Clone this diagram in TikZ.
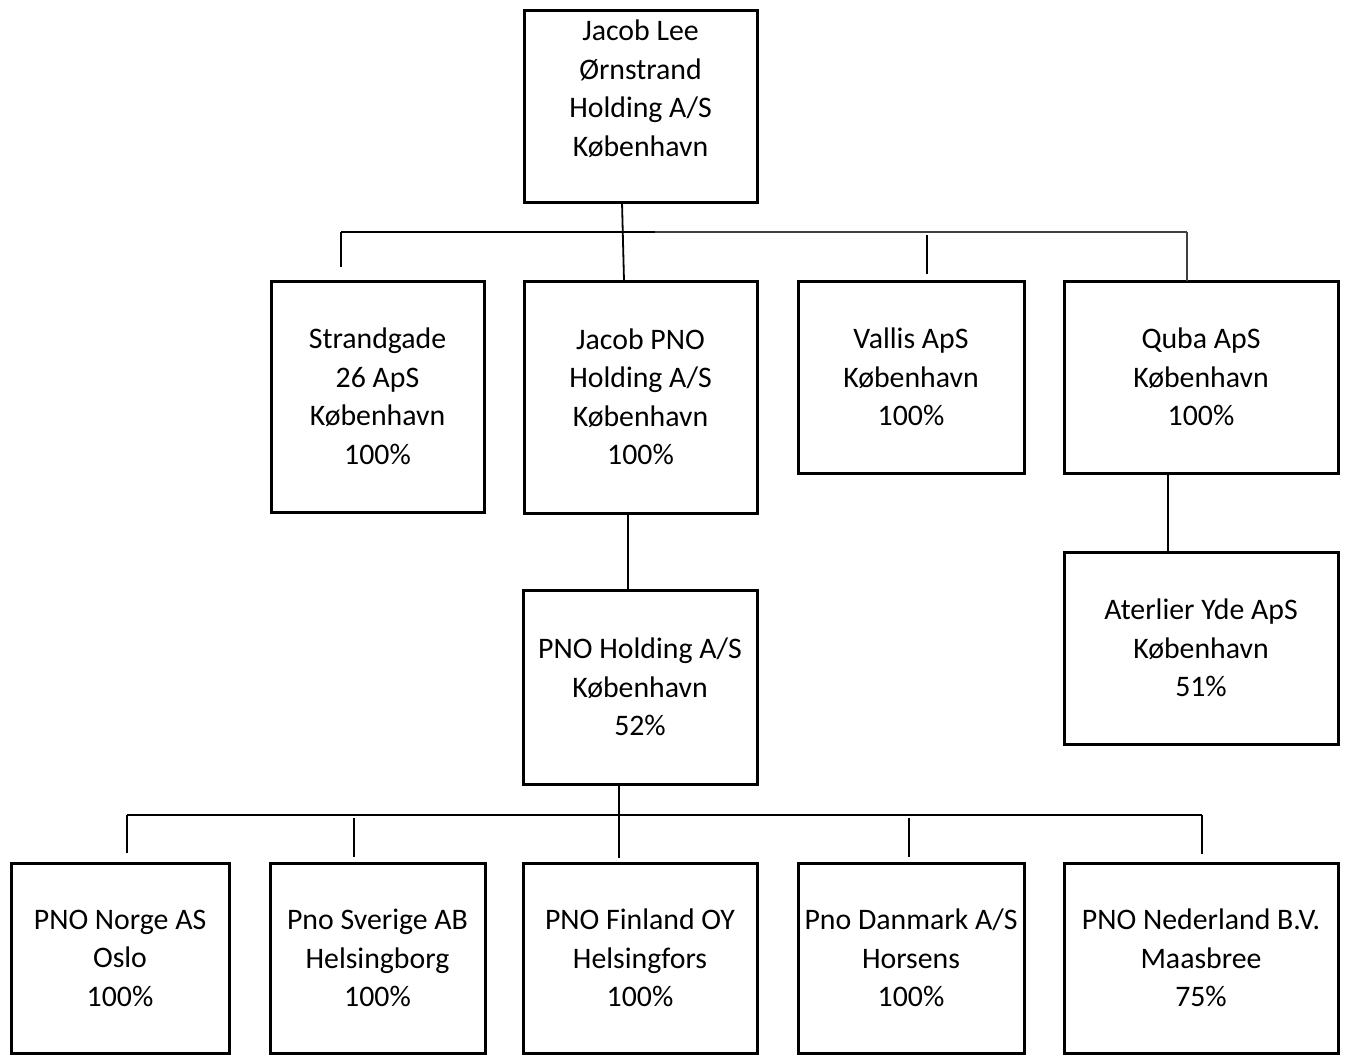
\documentclass[tikz,border=0pt]{standalone}
\usepackage{fontspec}
\setmainfont{Carlito}
\usetikzlibrary{calc}
\begin{document}
\begin{tikzpicture}[x=1pt,y=-1pt,
  box/.style={draw, line width=3pt, inner sep=0pt, outer sep=0pt, align=center,
              font=\fontsize{29.8}{38.5}\selectfont},
  conn/.style={line width=2.8pt},
  thinconn/.style={line width=1.8pt}]
\useasboundingbox (0,0) rectangle (1346,1055);

% boxes
\node[box, minimum width=233pt, minimum height=192pt] (top) at (640.5,106)
  {Jacob Lee\\Ørnstrand\\Holding A/S\\København\\[-14pt]\strut};
\node[box, minimum width=213pt, minimum height=231pt] (str) at (377.5,396.5)
  {Strandgade\\26 ApS\\København\\100\%};
\node[box, minimum width=233pt, minimum height=232pt] (jpno) at (640.5,397)
  {Jacob PNO\\Holding A/S\\København\\100\%};
\node[box, minimum width=226pt, minimum height=192pt] (val) at (911,377)
  {Vallis ApS\\København\\100\%};
\node[box, minimum width=274pt, minimum height=192pt] (quba) at (1201,377)
  {Quba ApS\\København\\100\%};
\node[box, minimum width=234pt, minimum height=194pt] (pnoh) at (640,687)
  {PNO Holding A/S\\København\\52\%};
\node[box, minimum width=274pt, minimum height=192pt] (ate) at (1201,648)
  {Aterlier Yde ApS\\København\\51\%};
\node[box, minimum width=218pt, minimum height=190pt] (nor) at (120,958)
  {PNO Norge AS\\Oslo\\100\%};
\node[box, minimum width=215pt, minimum height=190pt] (sve) at (377.5,958)
  {Pno Sverige AB\\Helsingborg\\100\%};
\node[box, minimum width=234pt, minimum height=190pt] (fin) at (640,958)
  {PNO Finland OY\\Helsingfors\\100\%};
\node[box, minimum width=226pt, minimum height=190pt] (dan) at (911,958)
  {Pno Danmark A/S\\Horsens\\100\%};
\node[box, minimum width=274pt, minimum height=190pt] (ned) at (1201,958)
  {PNO Nederland B.V.\\Maasbree\\75\%};

% upper bus
\coordinate (busL) at (341,232);
\coordinate (busM) at (655,232);
\coordinate (busR) at (1187,232);
\coordinate (strstub) at (341,267);
\coordinate (valA) at (927,235);
\coordinate (valB) at (927,274);
\draw[thinconn] ($(top.south)+(-18.5,0)$) -- ($(jpno.north)+(-16.5,0)$);
\draw[conn] (busL) -- (busM);
\draw[thinconn, black!75] (busM) -- (busR);
\draw[conn] (busL) -- (strstub);
\draw[conn] (valA) -- (valB);
\draw[thinconn, black!75] (busR) -- (busR |- quba.north);

% vertical links
\draw[conn] ($(jpno.south)+(-12.5,0)$) -- ($(pnoh.north)+(-12,0)$);
\draw[conn] ($(quba.south)+(-33,0)$) -- ($(ate.north)+(-33,0)$);

% lower bus
\coordinate (bbL) at (127,815);
\coordinate (bbR) at (1202,815);
\coordinate (norstub) at (127,853);
\coordinate (sveA) at (354,818);
\coordinate (sveB) at (354,857);
\coordinate (finstub) at (619,858);
\coordinate (danA) at (909,818);
\coordinate (danB) at (909,857);
\coordinate (nedstub) at (1202,854);
\draw[conn] (bbL) -- (bbR);
\draw[thinconn] ($(pnoh.south)+(-21,0)$) -- (finstub);
\draw[thinconn] (bbL) -- (norstub);
\draw[thinconn] (sveA) -- (sveB);
\draw[thinconn] (danA) -- (danB);
\draw[conn] (bbR) -- (nedstub);
\end{tikzpicture}
\end{document}
